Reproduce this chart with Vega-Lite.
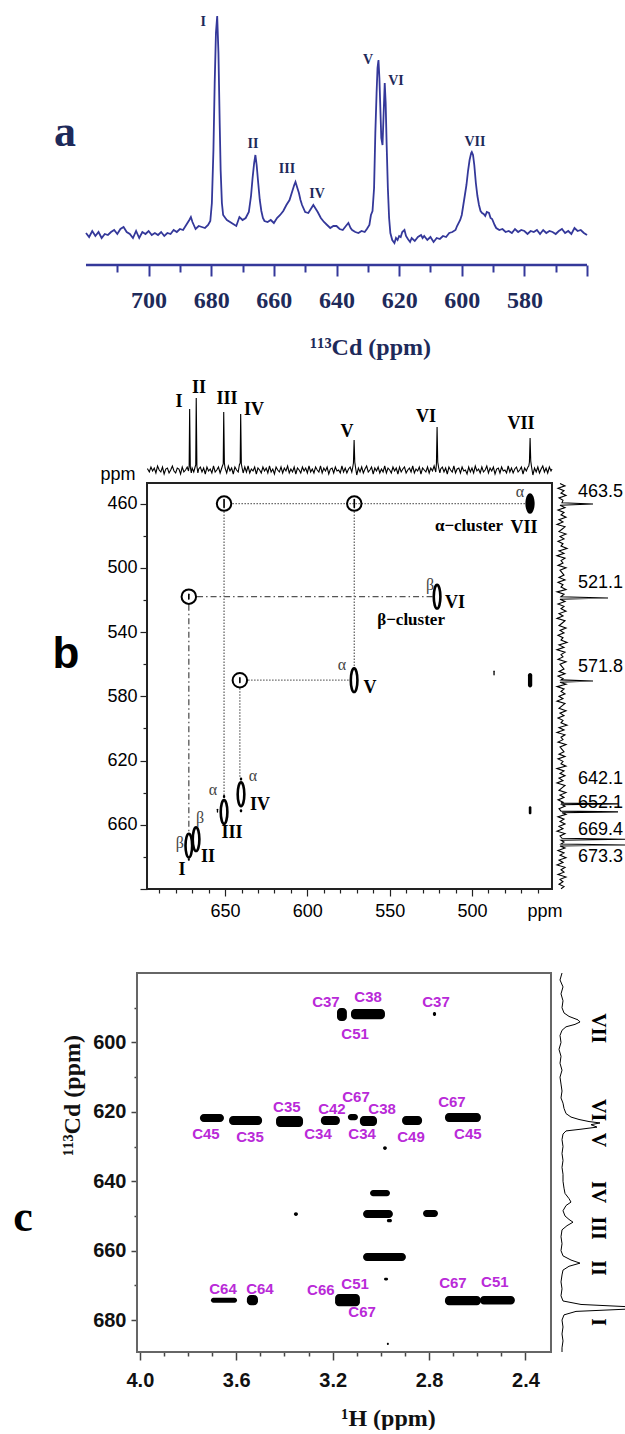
{
  "$schema": "https://vega.github.io/schema/vega-lite/v6.json",
  "padding": 0,
  "background": "white",
  "bounds": "flush",
  "spacing": 0,
  "config": {"view": {"stroke": null}, "axis": {"grid": false}},
  "datasets": {
    "specA": [
      {"x":720,"y":0},{"x":719,"y":-4},{"x":718,"y":2},{"x":717,"y":-3},{"x":716,"y":1},{"x":715,"y":-5},{"x":714,"y":-1},{"x":713,"y":-2},{"x":712,"y":1},{"x":711,"y":3},{"x":710,"y":-1},{"x":709,"y":4},{"x":708,"y":6},{"x":707,"y":1},{"x":706,"y":-1},{"x":705,"y":-5},{"x":704,"y":2},{"x":703,"y":-5},{"x":702,"y":1},{"x":701,"y":-1},{"x":700,"y":2},{"x":699,"y":-2},{"x":698,"y":0},{"x":697,"y":-2},{"x":696,"y":1},{"x":695,"y":-3},{"x":694,"y":0},{"x":693,"y":-1},{"x":692,"y":3},{"x":691,"y":1},{"x":690,"y":4},{"x":689,"y":3},{"x":688,"y":8},{"x":687,"y":13},{"x":686.5,"y":16},{"x":686,"y":11},{"x":685,"y":4},{"x":684,"y":7},{"x":683,"y":6},{"x":682,"y":5},{"x":681,"y":8},{"x":680.3,"y":12},{"x":679.8,"y":30},{"x":679.3,"y":83},{"x":678.9,"y":150},{"x":678.5,"y":200},{"x":678.1,"y":217},{"x":677.7,"y":180},{"x":677.3,"y":110},{"x":677,"y":63},{"x":676.6,"y":30},{"x":676.2,"y":18},{"x":675.5,"y":15},{"x":675,"y":13},{"x":674,"y":11},{"x":673,"y":9},{"x":672,"y":7},{"x":671,"y":16},{"x":670,"y":13},{"x":669,"y":15},{"x":668,"y":21},{"x":667.3,"y":37},{"x":666.8,"y":55},{"x":666.3,"y":70},{"x":665.9,"y":78},{"x":665.5,"y":68},{"x":665,"y":50},{"x":664.5,"y":33},{"x":664,"y":22},{"x":663.5,"y":15},{"x":663,"y":12},{"x":662,"y":11},{"x":661,"y":13},{"x":660,"y":10},{"x":659,"y":15},{"x":658,"y":18},{"x":657,"y":22},{"x":656,"y":28},{"x":655,"y":33},{"x":654,"y":43},{"x":653.5,"y":48},{"x":653.1,"y":51},{"x":652.5,"y":45},{"x":652,"y":40},{"x":651.5,"y":33},{"x":651,"y":28},{"x":650,"y":21},{"x":649,"y":20},{"x":648,"y":25},{"x":647.4,"y":28},{"x":646.8,"y":25},{"x":646,"y":21},{"x":645,"y":15},{"x":644,"y":11},{"x":643,"y":8},{"x":642,"y":5},{"x":641,"y":7},{"x":640,"y":7},{"x":639,"y":4},{"x":638,"y":3},{"x":637,"y":7},{"x":636.2,"y":10},{"x":635.5,"y":5},{"x":635,"y":3},{"x":634,"y":1},{"x":633,"y":0},{"x":632,"y":2},{"x":631,"y":1},{"x":630.3,"y":4},{"x":629.5,"y":8},{"x":629,"y":18},{"x":628.5,"y":22},{"x":628,"y":45},{"x":627.6,"y":100},{"x":627.2,"y":140},{"x":626.9,"y":165},{"x":626.6,"y":173},{"x":626.3,"y":155},{"x":626,"y":125},{"x":625.7,"y":95},{"x":625.3,"y":88},{"x":625,"y":115},{"x":624.6,"y":150},{"x":624.3,"y":130},{"x":624,"y":90},{"x":623.6,"y":45},{"x":623.2,"y":15},{"x":622.8,"y":0},{"x":622.2,"y":-7},{"x":621.5,"y":-10},{"x":621,"y":-5},{"x":620.5,"y":-7},{"x":620,"y":-3},{"x":619.5,"y":-4},{"x":619,"y":1},{"x":618.3,"y":3},{"x":617.8,"y":-3},{"x":617.2,"y":-6},{"x":616.5,"y":-9},{"x":616,"y":-5},{"x":615,"y":-8},{"x":614,"y":-4},{"x":613,"y":-2},{"x":612.5,"y":-5},{"x":612,"y":-3},{"x":611,"y":-7},{"x":610,"y":-4},{"x":609,"y":-9},{"x":608,"y":-5},{"x":607,"y":-6},{"x":606,"y":-3},{"x":605,"y":-4},{"x":604,"y":0},{"x":603,"y":1},{"x":602,"y":3},{"x":601.5,"y":7},{"x":600.5,"y":13},{"x":600,"y":18},{"x":599.5,"y":28},{"x":599,"y":38},{"x":598.5,"y":48},{"x":598,"y":62},{"x":597.5,"y":73},{"x":597,"y":80},{"x":596.8,"y":81},{"x":596.4,"y":78},{"x":596,"y":68},{"x":595.5,"y":50},{"x":595,"y":37},{"x":594.5,"y":28},{"x":594,"y":22},{"x":593.5,"y":20},{"x":593,"y":19},{"x":592.5,"y":17},{"x":592,"y":21},{"x":591.3,"y":20},{"x":590.8,"y":15},{"x":590.3,"y":14},{"x":589.5,"y":8},{"x":589,"y":5},{"x":588,"y":3},{"x":587,"y":4},{"x":586,"y":1},{"x":585,"y":2},{"x":584,"y":0},{"x":583,"y":4},{"x":582,"y":1},{"x":581,"y":3},{"x":580,"y":2},{"x":579,"y":-1},{"x":578,"y":2},{"x":577,"y":1},{"x":576,"y":3},{"x":575,"y":-1},{"x":574,"y":3},{"x":573,"y":0},{"x":572,"y":2},{"x":571,"y":1},{"x":570,"y":-1},{"x":569,"y":2},{"x":568,"y":4},{"x":567,"y":0},{"x":566,"y":2},{"x":565,"y":-1},{"x":564,"y":5},{"x":563,"y":2},{"x":562,"y":3},{"x":561,"y":0},{"x":560,"y":-2}
    ],
    "labA": [
      {"x":682.6,"y":211,"lab":"I"},{"x":666.7,"y":89,"lab":"II"},{"x":655.8,"y":64,"lab":"III"},{"x":646.2,"y":39,"lab":"IV"},{"x":629.9,"y":173,"lab":"V"},{"x":621,"y":152,"lab":"VI"},{"x":595.8,"y":91,"lab":"VII"}
    ],
    "specBtop": [
      {"x":697.4,"y":1},{"x":697,"y":1},{"x":696,"y":-2},{"x":695,"y":3},{"x":694,"y":-1},{"x":693,"y":2},{"x":692,"y":-3},{"x":691,"y":4},{"x":690,"y":0},{"x":689,"y":-2},{"x":688,"y":3},{"x":687,"y":-4},{"x":686,"y":1},{"x":685,"y":2},{"x":684,"y":-3},{"x":683,"y":0},{"x":682,"y":4},{"x":681,"y":-1},{"x":680,"y":-3},{"x":679,"y":2},{"x":678,"y":1},{"x":677,"y":-4},{"x":676,"y":3},{"x":675,"y":-2},{"x":674,"y":0},{"x":673,"y":3},{"x":672.2,"y":-1},{"x":671.8,"y":4},{"x":671.5,"y":61},{"x":671.1,"y":3},{"x":670.5,"y":-3},{"x":670,"y":2},{"x":669,"y":-2},{"x":668.2,"y":3},{"x":667.8,"y":5},{"x":667.5,"y":72},{"x":667.1,"y":4},{"x":666.5,"y":-3},{"x":666,"y":1},{"x":665,"y":3},{"x":664,"y":-2},{"x":663,"y":2},{"x":662,"y":-4},{"x":661,"y":3},{"x":660,"y":-1},{"x":659,"y":1},{"x":658,"y":-3},{"x":657,"y":4},{"x":656,"y":-2},{"x":655,"y":0},{"x":654,"y":3},{"x":653,"y":-3},{"x":652,"y":2},{"x":651.6,"y":4},{"x":651.1,"y":6},{"x":650.8,"y":58},{"x":650.4,"y":7},{"x":650,"y":2},{"x":649,"y":-3},{"x":648,"y":4},{"x":647,"y":-1},{"x":646,"y":2},{"x":645,"y":-4},{"x":644,"y":3},{"x":643,"y":0},{"x":642,"y":-2},{"x":641.3,"y":5},{"x":640.8,"y":7},{"x":640.5,"y":56},{"x":640.1,"y":6},{"x":639.5,"y":1},{"x":639,"y":-3},{"x":638,"y":3},{"x":637,"y":-2},{"x":636,"y":4},{"x":635,"y":-3},{"x":634,"y":1},{"x":633,"y":-1},{"x":632,"y":3},{"x":631,"y":-4},{"x":630,"y":2},{"x":629,"y":0},{"x":628,"y":-3},{"x":627,"y":3},{"x":626,"y":-1},{"x":625,"y":2},{"x":624,"y":-3},{"x":623,"y":4},{"x":622,"y":-2},{"x":621,"y":1},{"x":620,"y":-4},{"x":619,"y":3},{"x":618,"y":0},{"x":617,"y":-2},{"x":616,"y":3},{"x":615,"y":-3},{"x":614,"y":2},{"x":613,"y":-1},{"x":612,"y":4},{"x":611,"y":-3},{"x":610,"y":1},{"x":609,"y":-2},{"x":608,"y":3},{"x":607,"y":-4},{"x":606,"y":2},{"x":605,"y":0},{"x":604,"y":-3},{"x":603,"y":3},{"x":602,"y":-1},{"x":601,"y":2},{"x":600,"y":-3},{"x":599,"y":4},{"x":598,"y":-2},{"x":597,"y":1},{"x":596,"y":-3},{"x":595,"y":3},{"x":594,"y":0},{"x":593,"y":-2},{"x":592,"y":4},{"x":591,"y":-3},{"x":590,"y":2},{"x":589,"y":-1},{"x":588,"y":3},{"x":587,"y":-4},{"x":586,"y":1},{"x":585,"y":2},{"x":584,"y":-3},{"x":583,"y":3},{"x":582,"y":-1},{"x":581,"y":0},{"x":580,"y":-3},{"x":579,"y":4},{"x":578,"y":-2},{"x":577,"y":2},{"x":576,"y":-3},{"x":575,"y":1},{"x":574,"y":3},{"x":573,"y":-2},{"x":572.4,"y":3},{"x":572,"y":7},{"x":571.6,"y":30},{"x":571.2,"y":8},{"x":570.6,"y":1},{"x":570,"y":-5},{"x":569,"y":2},{"x":568,"y":-2},{"x":567,"y":3},{"x":566,"y":-3},{"x":565,"y":1},{"x":564,"y":4},{"x":563,"y":-2},{"x":562,"y":0},{"x":561,"y":3},{"x":560,"y":-4},{"x":559,"y":2},{"x":558,"y":-1},{"x":557,"y":3},{"x":556,"y":-3},{"x":555,"y":1},{"x":554,"y":-2},{"x":553,"y":4},{"x":552,"y":-3},{"x":551,"y":2},{"x":550,"y":0},{"x":549,"y":-3},{"x":548,"y":3},{"x":547,"y":-1},{"x":546,"y":2},{"x":545,"y":-4},{"x":544,"y":3},{"x":543,"y":-2},{"x":542,"y":1},{"x":541,"y":3},{"x":540,"y":-3},{"x":539,"y":0},{"x":538,"y":2},{"x":537,"y":-2},{"x":536,"y":4},{"x":535,"y":-3},{"x":534,"y":1},{"x":533,"y":-1},{"x":532,"y":3},{"x":531,"y":-4},{"x":530,"y":2},{"x":529,"y":0},{"x":528,"y":-2},{"x":527,"y":3},{"x":526,"y":-3},{"x":525,"y":2},{"x":524,"y":-1},{"x":523,"y":4},{"x":522,"y":-2},{"x":521.6,"y":6},{"x":521.2,"y":43},{"x":520.8,"y":8},{"x":520.2,"y":2},{"x":519.5,"y":-3},{"x":519,"y":1},{"x":518,"y":3},{"x":517,"y":-2},{"x":516,"y":2},{"x":515,"y":-4},{"x":514,"y":3},{"x":513,"y":0},{"x":512,"y":-2},{"x":511,"y":4},{"x":510,"y":-3},{"x":509,"y":1},{"x":508,"y":2},{"x":507,"y":-3},{"x":506,"y":3},{"x":505,"y":-1},{"x":504,"y":0},{"x":503,"y":-4},{"x":502,"y":3},{"x":501,"y":-2},{"x":500,"y":2},{"x":499,"y":-3},{"x":498,"y":4},{"x":497,"y":-1},{"x":496,"y":1},{"x":495,"y":-3},{"x":494,"y":3},{"x":493,"y":-2},{"x":492,"y":0},{"x":491,"y":4},{"x":490,"y":-3},{"x":489,"y":2},{"x":488,"y":-1},{"x":487,"y":3},{"x":486,"y":-4},{"x":485,"y":1},{"x":484,"y":2},{"x":483,"y":-3},{"x":482,"y":3},{"x":481,"y":-1},{"x":480,"y":0},{"x":479,"y":-3},{"x":478,"y":4},{"x":477,"y":-2},{"x":476,"y":2},{"x":475,"y":-3},{"x":474,"y":1},{"x":473,"y":3},{"x":472,"y":-2},{"x":471,"y":0},{"x":470,"y":3},{"x":469,"y":-4},{"x":468,"y":2},{"x":467,"y":-1},{"x":466,"y":3},{"x":465.5,"y":4},{"x":465.1,"y":8},{"x":464.7,"y":32},{"x":464.3,"y":9},{"x":463.8,"y":3},{"x":463,"y":-5},{"x":462,"y":2},{"x":461,"y":-2},{"x":460,"y":3},{"x":459,"y":-3},{"x":458,"y":1},{"x":457,"y":4},{"x":456,"y":-2},{"x":455,"y":2},{"x":454,"y":-3},{"x":453,"y":3},{"x":452,"y":-1},{"x":451.4,"y":1}
    ],
    "labBtop": [
      {"x":677.9,"y":68,"lab":"I"},{"x":665.8,"y":82,"lab":"II"},{"x":648.8,"y":71,"lab":"III"},{"x":632.4,"y":60,"lab":"IV"},{"x":575.9,"y":38,"lab":"V"},{"x":527.9,"y":53,"lab":"VI"},{"x":470.2,"y":46,"lab":"VII"}
    ],
    "circB": [{"x":650.6,"y":460},{"x":571.5,"y":460},{"x":672,"y":518},{"x":641,"y":570}],
    "strongB": [{"x":464.75,"y":460}],
    "openB": [
      {"x":521.2,"y":518},{"x":571.6,"y":570},{"x":640.3,"y":641},{"x":650.6,"y":652},{"x":667.6,"y":669},{"x":672,"y":673}
    ],
    "filledB": [
      {"x":641,"x2":639.6,"y":630.5,"y2":632.5},
      {"x":641,"x2":639.6,"y":650.3,"y2":652.3},
      {"x":651.3,"x2":649.9,"y":641.5,"y2":643.5},
      {"x":672.6,"x2":671.4,"y":680.8,"y2":682.4},
      {"x":655,"x2":654.2,"y":650,"y2":652.5},
      {"x":487,"x2":486.2,"y":564,"y2":567},
      {"x":466,"x2":463.4,"y":565.5,"y2":574.5},
      {"x":465.5,"x2":463.9,"y":648.5,"y2":653.5},
      {"x":651.1,"x2":650.1,"y":457,"y2":463},
      {"x":572,"x2":571,"y":457,"y2":463},
      {"x":672.5,"x2":671.5,"y":516,"y2":520},
      {"x":641.5,"x2":640.5,"y":568,"y2":572}
    ],
    "dotB": [
      {"x":645.5,"x2":467.8,"y":460,"y2":460},
      {"x":650.6,"x2":650.6,"y":465,"y2":641.5},
      {"x":571.5,"x2":571.5,"y":465,"y2":562.5},
      {"x":636,"x2":573.6,"y":570,"y2":570},
      {"x":641,"x2":641,"y":575,"y2":630.5}
    ],
    "dashB": [
      {"x":667,"x2":523.6,"y":518,"y2":518},
      {"x":672,"x2":672,"y":523,"y2":664.9}
    ],
    "greekB": [
      {"x":470.8,"y":452.8,"lab":"α"},{"x":525.5,"y":510.7,"lab":"β"},{"x":579,"y":560.5,"lab":"α"},{"x":633,"y":629.7,"lab":"α"},{"x":657.3,"y":638.4,"lab":"α"},{"x":665.2,"y":655.8,"lab":"β"},{"x":677.4,"y":671.4,"lab":"β"}
    ],
    "romanB": [
      {"x":468.4,"y":475.3,"lab":"VII"},{"x":510.3,"y":522,"lab":"VI"},{"x":561.9,"y":574.9,"lab":"V"},{"x":628.7,"y":647.7,"lab":"IV"},{"x":645.8,"y":665.2,"lab":"III"},{"x":660.3,"y":680.1,"lab":"II"},{"x":676.1,"y":688.2,"lab":"I"}
    ],
    "clusterB": [{"x":501.8,"y":474,"lab":"α−cluster"},{"x":537,"y":532.5,"lab":"β−cluster"}],
    "specBr": [
      {"x":8,"y":447.5},{"x":13,"y":449},{"x":6,"y":450.5},{"x":12,"y":452},{"x":9,"y":453.5},{"x":14,"y":455},{"x":7,"y":456.5},{"x":11,"y":458},{"x":10,"y":459.5},{"x":41,"y":460.3},{"x":8,"y":461.1},{"x":13,"y":462.5},{"x":6,"y":464},{"x":12,"y":465.5},{"x":9,"y":467},{"x":14,"y":468.5},{"x":7,"y":470},{"x":11,"y":471.5},{"x":5,"y":473},{"x":13,"y":474.5},{"x":10,"y":476},{"x":7,"y":477.5},{"x":14,"y":479},{"x":8,"y":480.5},{"x":12,"y":482},{"x":6,"y":483.5},{"x":11,"y":485},{"x":9,"y":486.5},{"x":15,"y":488},{"x":7,"y":489.5},{"x":12,"y":491},{"x":5,"y":492.5},{"x":13,"y":494},{"x":9,"y":495.5},{"x":11,"y":497},{"x":6,"y":498.5},{"x":14,"y":500},{"x":8,"y":501.5},{"x":10,"y":503},{"x":12,"y":504.5},{"x":7,"y":506},{"x":13,"y":507.5},{"x":6,"y":509},{"x":11,"y":510.5},{"x":9,"y":512},{"x":14,"y":513.5},{"x":5,"y":515},{"x":12,"y":516.5},{"x":9,"y":518},{"x":56,"y":518.8},{"x":8,"y":519.6},{"x":13,"y":521},{"x":6,"y":522.5},{"x":12,"y":524},{"x":9,"y":525.5},{"x":14,"y":527},{"x":7,"y":528.5},{"x":11,"y":530},{"x":5,"y":531.5},{"x":13,"y":533},{"x":10,"y":534.5},{"x":7,"y":536},{"x":14,"y":537.5},{"x":8,"y":539},{"x":12,"y":540.5},{"x":6,"y":542},{"x":11,"y":543.5},{"x":9,"y":545},{"x":15,"y":546.5},{"x":7,"y":548},{"x":12,"y":549.5},{"x":5,"y":551},{"x":13,"y":552.5},{"x":9,"y":554},{"x":11,"y":555.5},{"x":6,"y":557},{"x":14,"y":558.5},{"x":8,"y":560},{"x":10,"y":561.5},{"x":12,"y":563},{"x":7,"y":564.5},{"x":13,"y":566},{"x":6,"y":567.5},{"x":11,"y":569},{"x":9,"y":569.8},{"x":41,"y":570.5},{"x":8,"y":571.3},{"x":14,"y":572.5},{"x":5,"y":574},{"x":12,"y":575.5},{"x":9,"y":577},{"x":13,"y":578.5},{"x":7,"y":580},{"x":11,"y":581.5},{"x":5,"y":583},{"x":13,"y":584.5},{"x":10,"y":586},{"x":7,"y":587.5},{"x":14,"y":589},{"x":8,"y":590.5},{"x":12,"y":592},{"x":6,"y":593.5},{"x":11,"y":595},{"x":9,"y":596.5},{"x":15,"y":598},{"x":7,"y":599.5},{"x":12,"y":601},{"x":5,"y":602.5},{"x":13,"y":604},{"x":9,"y":605.5},{"x":11,"y":607},{"x":6,"y":608.5},{"x":14,"y":610},{"x":8,"y":611.5},{"x":10,"y":613},{"x":12,"y":614.5},{"x":7,"y":616},{"x":13,"y":617.5},{"x":6,"y":619},{"x":11,"y":620.5},{"x":9,"y":622},{"x":14,"y":623.5},{"x":5,"y":625},{"x":12,"y":626.5},{"x":8,"y":628},{"x":13,"y":629.5},{"x":7,"y":631},{"x":11,"y":632.5},{"x":5,"y":634},{"x":13,"y":635.5},{"x":10,"y":637},{"x":7,"y":638.5},{"x":14,"y":640},{"x":8,"y":641.5},{"x":12,"y":643},{"x":6,"y":644.5},{"x":11,"y":646},{"x":9,"y":646.5},{"x":66,"y":647},{"x":10,"y":647.5},{"x":13,"y":648.5},{"x":7,"y":650},{"x":9,"y":651.5},{"x":66,"y":652},{"x":10,"y":652.5},{"x":14,"y":653.5},{"x":6,"y":655},{"x":12,"y":656.5},{"x":8,"y":658},{"x":13,"y":659.5},{"x":7,"y":661},{"x":11,"y":662.5},{"x":5,"y":664},{"x":13,"y":665.5},{"x":8,"y":667},{"x":10,"y":668.4},{"x":73,"y":669},{"x":9,"y":669.6},{"x":12,"y":670.8},{"x":9,"y":672},{"x":73,"y":672.6},{"x":8,"y":673.2},{"x":13,"y":674.5},{"x":6,"y":676},{"x":12,"y":677.5},{"x":8,"y":679},{"x":14,"y":680.5},{"x":7,"y":682},{"x":11,"y":683.5},{"x":5,"y":685},{"x":13,"y":686.5},{"x":9,"y":688},{"x":12,"y":689.5},{"x":6,"y":691},{"x":14,"y":692.5},{"x":8,"y":694},{"x":11,"y":695.5},{"x":7,"y":697},{"x":12,"y":698.5},{"x":9,"y":699.8}
    ],
    "labBr": [
      {"x":26,"y":452.8,"lab":"463.5"},{"x":26,"y":509.5,"lab":"521.1"},{"x":26,"y":561.8,"lab":"571.8"},{"x":26,"y":631.5,"lab":"642.1"},{"x":26,"y":646.5,"lab":"652.1"},{"x":26,"y":663.3,"lab":"669.4"},{"x":26,"y":680.1,"lab":"673.3"}
    ],
    "blobC": [
      {"x":3.182,"x2":3.141,"y":590.1,"y2":593.8},
      {"x":3.124,"x2":2.983,"y":590.4,"y2":593.3},
      {"x":2.784,"x2":2.771,"y":591.2,"y2":592.4},
      {"x":3.751,"x2":3.651,"y":620.6,"y2":622.9},
      {"x":3.630,"x2":3.493,"y":621.2,"y2":623.8},
      {"x":3.435,"x2":3.323,"y":621.2,"y2":624.4},
      {"x":3.249,"x2":3.170,"y":621.2,"y2":623.8},
      {"x":3.137,"x2":3.095,"y":620.6,"y2":622.4},
      {"x":3.087,"x2":3.016,"y":621.2,"y2":624.1},
      {"x":2.912,"x2":2.829,"y":621.2,"y2":623.8},
      {"x":2.734,"x2":2.585,"y":620.3,"y2":622.9},
      {"x":2.991,"x2":2.975,"y":629.9,"y2":631.0},
      {"x":3.045,"x2":2.962,"y":642.5,"y2":644.3},
      {"x":3.361,"x2":3.344,"y":648.9,"y2":650.0},
      {"x":3.074,"x2":2.950,"y":648.3,"y2":650.6},
      {"x":2.825,"x2":2.763,"y":648.3,"y2":650.3},
      {"x":2.975,"x2":2.954,"y":650.9,"y2":651.8},
      {"x":3.074,"x2":2.896,"y":660.7,"y2":663.0},
      {"x":2.987,"x2":2.970,"y":667.8,"y2":668.6},
      {"x":3.705,"x2":3.597,"y":673.6,"y2":675.0},
      {"x":3.556,"x2":3.510,"y":672.8,"y2":675.7},
      {"x":3.190,"x2":3.087,"y":672.5,"y2":676.0},
      {"x":2.734,"x2":2.585,"y":673.1,"y2":675.7},
      {"x":2.589,"x2":2.444,"y":673.1,"y2":675.5},
      {"x":2.975,"x2":2.967,"y":686.5,"y2":687.2}
    ],
    "labC": [
      {"x":3.228,"y":588.4,"lab":"C37"},{"x":3.053,"y":586.9,"lab":"C38"},{"x":2.771,"y":588.4,"lab":"C37"},{"x":3.107,"y":597.6,"lab":"C51"},
      {"x":3.103,"y":615.7,"lab":"C67"},{"x":2.705,"y":617.2,"lab":"C67"},{"x":3.390,"y":618.6,"lab":"C35"},{"x":3.203,"y":619.2,"lab":"C42"},{"x":2.995,"y":619.2,"lab":"C38"},
      {"x":3.726,"y":626.4,"lab":"C45"},{"x":3.543,"y":627.3,"lab":"C35"},{"x":3.261,"y":626.4,"lab":"C34"},{"x":3.078,"y":626.4,"lab":"C34"},{"x":2.875,"y":627.3,"lab":"C49"},{"x":2.639,"y":626.4,"lab":"C45"},
      {"x":3.655,"y":671.1,"lab":"C64"},{"x":3.502,"y":671.1,"lab":"C64"},{"x":3.249,"y":671.4,"lab":"C66"},{"x":3.107,"y":669.6,"lab":"C51"},{"x":3.078,"y":677.7,"lab":"C67"},{"x":2.701,"y":669.3,"lab":"C67"},{"x":2.527,"y":669.0,"lab":"C51"}
    ],
    "specCr": [
      {"x":11,"y":580},{"x":9,"y":582},{"x":12,"y":584},{"x":10,"y":586},{"x":12,"y":588},{"x":11,"y":590},{"x":13,"y":591.5},{"x":18,"y":592.5},{"x":27,"y":593.5},{"x":29,"y":594.1},{"x":24,"y":594.8},{"x":15,"y":595.5},{"x":11,"y":596.5},{"x":9,"y":598},{"x":10,"y":600},{"x":8,"y":602},{"x":10,"y":604},{"x":9,"y":606},{"x":11,"y":608},{"x":9,"y":610},{"x":10,"y":612},{"x":11,"y":614},{"x":10,"y":616},{"x":12,"y":617.5},{"x":13,"y":619},{"x":15,"y":620.5},{"x":20,"y":621.5},{"x":28,"y":622.2},{"x":38,"y":622.8},{"x":49,"y":623.2},{"x":40,"y":623.7},{"x":46,"y":624.4},{"x":30,"y":625},{"x":15,"y":625.5},{"x":12,"y":626.4},{"x":11,"y":628},{"x":12,"y":630},{"x":11,"y":632},{"x":12,"y":634},{"x":11,"y":636},{"x":12,"y":638},{"x":12,"y":640},{"x":13,"y":642},{"x":14,"y":643.5},{"x":18,"y":645},{"x":20,"y":646},{"x":15,"y":647},{"x":12,"y":648.5},{"x":14,"y":650},{"x":18,"y":651},{"x":22,"y":651.8},{"x":16,"y":652.8},{"x":11,"y":654},{"x":10,"y":656},{"x":11,"y":658},{"x":10,"y":660},{"x":12,"y":661.5},{"x":20,"y":662.7},{"x":29,"y":663.6},{"x":18,"y":664.5},{"x":12,"y":665.6},{"x":11,"y":667},{"x":10,"y":669},{"x":11,"y":671},{"x":10,"y":673},{"x":12,"y":674.5},{"x":30,"y":675.5},{"x":80,"y":676.2},{"x":80,"y":676.8},{"x":25,"y":677.5},{"x":13,"y":678.5},{"x":11,"y":680},{"x":12,"y":682},{"x":11,"y":684},{"x":12,"y":686},{"x":11,"y":688},{"x":11,"y":689.2}
    ],
    "labCr": [
      {"x":47,"y":595.9,"lab":"VII"},{"x":47,"y":619.5,"lab":"VI"},{"x":47,"y":628.1,"lab":"V"},{"x":47,"y":643.1,"lab":"IV"},{"x":47,"y":653.5,"lab":"III"},{"x":47,"y":665,"lab":"II"},{"x":47,"y":680.6,"lab":"I"}
    ]
  },
  "vconcat": [
    {
      "width": 625, "height": 265,
      "encoding": {
        "x": {"field": "x", "type": "quantitative", "scale": {"domain": [747.46, 547.87], "nice": false, "zero": false},
          "axis": {"values": [710,700,690,680,670,660,650,640,630,620,610,600,590,580,570,560],
            "labelExpr": "datum.value % 20 == 0 && datum.value > 570 ? datum.label : ''",
            "labelOverlap": false, "domain": false,
            "tickColor": "#34389a", "tickWidth": 2,
            "tickSize": {"condition": {"test": "datum.value % 20 == 0", "value": 11}, "value": 7},
            "labelFont": "Liberation Serif", "labelFontWeight": "bold", "labelFontSize": 24, "labelColor": "#1e2a5a", "labelPadding": 12,
            "title": "¹¹³Cd (ppm)", "titleFont": "Liberation Serif", "titleFontWeight": "bold", "titleFontSize": 24, "titleColor": "#1e2a5a",
            "titleX": 370, "titleY": 82, "titleBaseline": "middle", "titleAlign": "center", "grid": false}},
        "y": {"field": "y", "type": "quantitative", "scale": {"domain": [-32, 233], "nice": false, "zero": false}, "axis": null}
      },
      "layer": [
        {"data": {"values": [{"x": 720, "x2": 560, "y": -32}]}, "mark": {"type": "rule", "color": "#34389a", "strokeWidth": 2.5}, "encoding": {"x2": {"field": "x2"}}},
        {"data": {"name": "specA"}, "mark": {"type": "line", "color": "#34389a", "strokeWidth": 1.8}},
        {"data": {"name": "labA"}, "mark": {"type": "text", "font": "Liberation Serif", "fontWeight": "bold", "fontSize": 14, "color": "#1e2a5a"}, "encoding": {"text": {"field": "lab"}}},
        {"data": {"values": [{"x": 726.7, "y": 100, "lab": "a"}]}, "mark": {"type": "text", "font": "Liberation Serif", "fontWeight": "bold", "fontSize": 44, "color": "#1e2a5a"}, "encoding": {"text": {"field": "lab"}}}
      ]
    },
    {
      "width": 625, "height": 218,
      "encoding": {
        "x": {"field": "x", "type": "quantitative", "scale": {"domain": [786.70, 407.05], "nice": false, "zero": false}, "axis": null},
        "y": {"field": "y", "type": "quantitative", "scale": {"domain": [-13, 205], "nice": false, "zero": false}, "axis": null}
      },
      "layer": [
        {"data": {"name": "specBtop"}, "mark": {"type": "line", "color": "black", "strokeWidth": 1.1}},
        {"data": {"name": "labBtop"}, "mark": {"type": "text", "font": "Liberation Serif", "fontWeight": "bold", "fontSize": 18, "color": "black"}, "encoding": {"text": {"field": "lab"}}},
        {"data": {"values": [{"x": 715, "y": -5, "lab": "ppm"}]}, "mark": {"type": "text", "font": "Liberation Sans", "fontSize": 18, "color": "black"}, "encoding": {"text": {"field": "lab"}}}
      ]
    },
    {
      "width": 625, "height": 406,
      "resolve": {"scale": {"x": "independent", "y": "independent"}, "axis": {"x": "independent", "y": "independent"}},
      "layer": [
        {
          "encoding": {
            "x": {"field": "x", "type": "quantitative", "scale": {"domain": [786.70, 407.05], "nice": false, "zero": false},
              "axis": {"values": [690,680,670,660,650,640,630,620,610,600,590,580,570,560,550,540,530,520,510,500,490,480,470,460],
                "labelExpr": "datum.value % 50 == 0 ? datum.label : ''", "labelOverlap": false,
                "domain": false, "tickColor": "#222222", "tickWidth": 1.2,
                "tickSize": {"condition": {"test": "datum.value % 50 == 0", "value": 7}, "value": 4},
                "labelFont": "Liberation Sans", "labelFontSize": 18, "labelColor": "black", "labelPadding": 6, "title": null}},
            "y": {"field": "y", "type": "quantitative", "scale": {"domain": [447.2, 700], "reverse": true, "nice": false, "zero": false},
              "axis": {"values": [460,480,500,520,540,560,580,600,620,640,660,680,700],
                "labelExpr": "(datum.value - 460) % 40 == 0 && datum.value < 700 ? datum.label : ''", "labelOverlap": false,
                "domain": false, "offset": -147, "tickColor": "#222222", "tickWidth": 1.2,
                "tickSize": {"condition": {"test": "(datum.value - 460) % 40 == 0", "value": 7}, "value": 4},
                "labelFont": "Liberation Sans", "labelFontSize": 18, "labelColor": "black", "labelPadding": 3, "title": null}}
          },
          "layer": [
            {"data": {"name": "dotB"}, "mark": {"type": "rule", "color": "#666666", "strokeWidth": 1.3, "strokeDash": [1.5, 1.5]}, "encoding": {"x2": {"field": "x2"}, "y2": {"field": "y2"}}},
            {"data": {"name": "dashB"}, "mark": {"type": "rule", "color": "#555555", "strokeWidth": 1.3, "strokeDash": [6, 3, 1.5, 3]}, "encoding": {"x2": {"field": "x2"}, "y2": {"field": "y2"}}},
            {"data": {"name": "circB"}, "mark": {"type": "point", "shape": "circle", "filled": false, "size": 210, "stroke": "black", "strokeWidth": 2, "opacity": 1}},
            {"data": {"name": "openB"}, "mark": {"type": "point", "shape": "M0,-1A0.28,1,0,1,1,0,1A0.28,1,0,1,1,0,-1Z", "size": 560, "filled": false, "stroke": "black", "strokeWidth": 2.6, "opacity": 1}},
            {"data": {"name": "strongB"}, "mark": {"type": "point", "shape": "M0,-1A0.45,1,0,1,1,0,1A0.45,1,0,1,1,0,-1Z", "size": 420, "filled": true, "color": "black", "opacity": 1}},
            {"data": {"name": "filledB"}, "mark": {"type": "rect", "fill": "black", "cornerRadius": 3}, "encoding": {"x2": {"field": "x2"}, "y2": {"field": "y2"}}},
            {"data": {"name": "greekB"}, "mark": {"type": "text", "font": "Liberation Serif", "fontSize": 16, "color": "#444444"}, "encoding": {"text": {"field": "lab"}}},
            {"data": {"name": "romanB"}, "mark": {"type": "text", "font": "Liberation Serif", "fontWeight": "bold", "fontSize": 18, "color": "black"}, "encoding": {"text": {"field": "lab"}}},
            {"data": {"name": "clusterB"}, "mark": {"type": "text", "font": "Liberation Serif", "fontWeight": "bold", "fontSize": 17, "color": "black"}, "encoding": {"text": {"field": "lab"}}},
            {"data": {"values": [{"x": 746.6, "y": 554.3, "lab": "b"}]}, "mark": {"type": "text", "font": "Liberation Sans", "fontWeight": "bold", "fontSize": 44, "color": "black"}, "encoding": {"text": {"field": "lab"}}},
            {"data": {"values": [{"x": 455.6, "y": 714.4, "lab": "ppm"}]}, "mark": {"type": "text", "font": "Liberation Sans", "fontSize": 18, "color": "black"}, "encoding": {"text": {"field": "lab"}}},
            {"data": {"values": [{"x": 697.4, "x2": 451.4, "y": 447.2, "y2": 700}]}, "mark": {"type": "rect", "fillOpacity": 0, "stroke": "#222222", "strokeWidth": 2}, "encoding": {"x2": {"field": "x2"}, "y2": {"field": "y2"}}}
          ]
        },
        {
          "encoding": {
            "x": {"field": "x", "type": "quantitative", "scale": {"domain": [-552, 73], "nice": false, "zero": false}, "axis": null},
            "y": {"field": "y", "type": "quantitative", "scale": {"domain": [447.2, 700], "reverse": true, "nice": false, "zero": false}, "axis": null}
          },
          "layer": [
            {"data": {"name": "specBr"}, "mark": {"type": "line", "color": "black", "strokeWidth": 1.1}, "encoding": {"order": {"field": "y", "type": "quantitative"}}},
            {"data": {"name": "labBr"}, "mark": {"type": "text", "font": "Liberation Sans", "fontSize": 18, "color": "black", "align": "left"}, "encoding": {"text": {"field": "lab"}}}
          ]
        }
      ]
    },
    {
      "width": 625, "height": 463,
      "resolve": {"scale": {"x": "independent", "y": "independent"}, "axis": {"x": "independent", "y": "independent"}},
      "layer": [
        {
          "encoding": {
            "x": {"field": "x", "type": "quantitative", "scale": {"domain": [4.5805, 1.9869], "nice": false, "zero": false},
              "axis": {"values": [4.0,3.9,3.8,3.7,3.6,3.5,3.4,3.3,3.2,3.1,3.0,2.9,2.8,2.7,2.6,2.5,2.4],
                "format": ".1f",
                "labelExpr": "indexof(['4.0','3.6','3.2','2.8','2.4'], datum.label) >= 0 ? datum.label : ''", "labelOverlap": false,
                "domain": false, "tickColor": "#444444", "tickWidth": 1.5,
                "tickSize": {"condition": {"test": "indexof([40,36,32,28,24], round(datum.value*10)) >= 0", "value": 8}, "value": 4},
                "labelFont": "Liberation Sans", "labelFontWeight": "bold", "labelFontSize": 20, "labelColor": "#111111", "labelPadding": 10,
                "title": "¹H (ppm)", "titleFont": "Liberation Serif", "titleFontWeight": "bold", "titleFontSize": 24, "titleColor": "#111111",
                "titleX": 388, "titleY": 66, "titleBaseline": "middle", "titleAlign": "center"}},
            "y": {"field": "y", "type": "quantitative", "scale": {"domain": [555.79, 689.2], "reverse": true, "nice": false, "zero": false},
              "axis": {"values": [590,600,610,620,630,640,650,660,670,680],
                "labelExpr": "datum.value % 20 == 0 ? datum.label : ''", "labelOverlap": false,
                "domain": false, "offset": -137, "tickColor": "#444444", "tickWidth": 1.5,
                "tickSize": {"condition": {"test": "datum.value % 20 == 0", "value": 6}, "value": 3},
                "labelFont": "Liberation Sans", "labelFontWeight": "bold", "labelFontSize": 20, "labelColor": "#111111", "labelPadding": 5,
                "title": "¹¹³Cd (ppm)", "titleFont": "Liberation Serif", "titleFontWeight": "bold", "titleFontSize": 24, "titleColor": "#111111",
                "titlePadding": 8, "titleY": 206}}
          },
          "layer": [
            {"data": {"name": "blobC"}, "mark": {"type": "rect", "fill": "black", "cornerRadius": 4}, "encoding": {"x2": {"field": "x2"}, "y2": {"field": "y2"}}},
            {"data": {"name": "labC"}, "mark": {"type": "text", "font": "Liberation Sans", "fontWeight": "bold", "fontSize": 15, "color": "#b92ad8"}, "encoding": {"text": {"field": "lab"}}},
            {"data": {"values": [{"x": 4.485, "y": 650.6, "lab": "c"}]}, "mark": {"type": "text", "font": "Liberation Serif", "fontWeight": "bold", "fontSize": 44, "color": "black"}, "encoding": {"text": {"field": "lab"}}},
            {"data": {"values": [{"x": 4.012, "x2": 2.294, "y": 580, "y2": 689.2}]}, "mark": {"type": "rect", "fillOpacity": 0, "stroke": "#666666", "strokeWidth": 2}, "encoding": {"x2": {"field": "x2"}, "y2": {"field": "y2"}}}
          ]
        },
        {
          "encoding": {
            "x": {"field": "x", "type": "quantitative", "scale": {"domain": [-551, 74], "nice": false, "zero": false}, "axis": null},
            "y": {"field": "y", "type": "quantitative", "scale": {"domain": [555.79, 689.2], "reverse": true, "nice": false, "zero": false}, "axis": null}
          },
          "layer": [
            {"data": {"name": "specCr"}, "mark": {"type": "line", "color": "black", "strokeWidth": 1, "clip": true}, "encoding": {"order": {"field": "y", "type": "quantitative"}}},
            {"data": {"name": "labCr"}, "mark": {"type": "text", "font": "Liberation Serif", "fontWeight": "bold", "fontSize": 20, "color": "black", "angle": 90}, "encoding": {"text": {"field": "lab"}}}
          ]
        }
      ]
    }
  ]
}
